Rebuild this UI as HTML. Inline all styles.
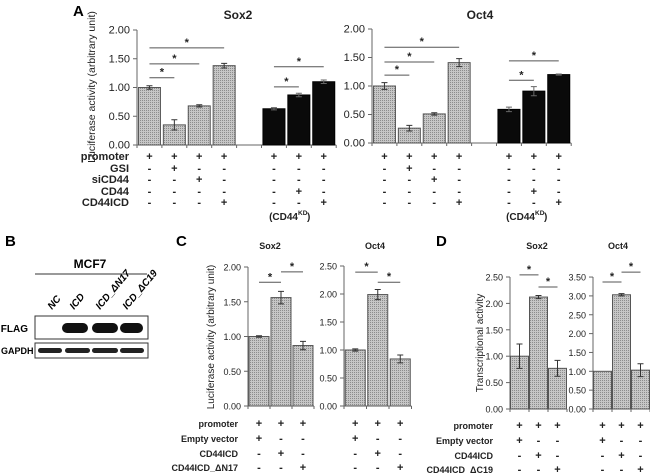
<!DOCTYPE html>
<html><head><meta charset="utf-8">
<style>
body{margin:0;background:#fff;}
svg{display:block;font-family:"Liberation Sans",Arial,sans-serif;}
</style></head>
<body>
<svg id="fig" width="650" height="473" viewBox="0 0 650 473" xmlns="http://www.w3.org/2000/svg">
<defs>
<pattern id="hatch" width="2" height="2" patternUnits="userSpaceOnUse">
<rect width="2" height="2" fill="#c6c6c6"/><rect width="1" height="1" fill="#8c8c8c"/>
</pattern>
</defs>
<g id="root"></g>
<text x="73" y="16" font-size="15" font-weight="bold">A</text>
<text x="5" y="246" font-size="15" font-weight="bold">B</text>
<text x="176" y="246" font-size="15" font-weight="bold">C</text>
<text x="436" y="246" font-size="15" font-weight="bold">D</text>
<g>
<text x="90" y="268" font-size="12" font-weight="bold" text-anchor="middle">MCF7</text>
<line x1="35" y1="274" x2="147" y2="274" stroke="#333" stroke-width="1"/>
<text transform="translate(52,310) rotate(-50)" font-size="10" font-weight="bold" font-style="italic">NC</text>
<text transform="translate(74,310) rotate(-50)" font-size="10" font-weight="bold" font-style="italic">ICD</text>
<text transform="translate(100,310) rotate(-50)" font-size="10" font-weight="bold" font-style="italic">ICD_ΔN17</text>
<text transform="translate(127,310) rotate(-50)" font-size="10" font-weight="bold" font-style="italic">ICD_ΔC19</text>
<text x="28" y="332" font-size="10" font-weight="bold" text-anchor="end">FLAG</text>
<text x="1" y="354" font-size="9" font-weight="bold">GAPDH</text>
<rect x="35" y="316" width="113" height="23" fill="#fff" stroke="#333"/>
<rect x="35" y="343" width="113" height="15" fill="#fff" stroke="#333"/>
<rect x="62" y="323" width="26" height="10" rx="5" fill="#111"/>
<rect x="92" y="323" width="26" height="10" rx="5" fill="#111"/>
<rect x="120" y="323" width="23" height="10" rx="5" fill="#111"/>
<rect x="38" y="348" width="24" height="5" rx="2.5" fill="#222"/>
<rect x="65" y="348" width="25" height="5" rx="2.5" fill="#222"/>
<rect x="92" y="348" width="26" height="5" rx="2.5" fill="#222"/>
<rect x="120" y="348" width="24" height="5" rx="2.5" fill="#222"/>
</g>
</svg>
<script>
const aSox2Values=[1.00,0.35,0.68,1.38,null,0.63,0.87,1.10];
const aSox2Errors=[0.03,0.09,0.02,0.04,0,0.02,0.03,0.03];
const aOct4Values=[1.00,0.26,0.51,1.41,null,0.59,0.91,1.20];
const aOct4Errors=[0.06,0.05,0.02,0.07,0,0.04,0.08,0.01];
const aTicks=[0,0.5,1.0,1.5,2.0];
const cSox2Values=[1.00,1.56,0.87];
const cSox2Errors=[0.01,0.09,0.06];
const cSox2Ticks=[0,0.5,1.0,1.5,2.0];
const cOct4Values=[1.00,1.99,0.84];
const cOct4Errors=[0.02,0.09,0.07];
const cOct4Ticks=[0,0.5,1.0,1.5,2.0,2.5];
const dSox2Values=[1.00,2.12,0.77];
const dSox2Errors=[0.23,0.03,0.15];
const dSox2Ticks=[0,0.5,1.0,1.5,2.0,2.5];
const dOct4Values=[1.00,3.03,1.03];
const dOct4Errors=[0,0.03,0.17];
const dOct4Ticks=[0,0.5,1.0,1.5,2.0,2.5,3.0,3.5];
const aSox2Sig=[[0,1,1.17],[0,2,1.41],[0,3,1.69],[5,6,1.01],[5,7,1.36]];
const aOct4Sig=[[0,1,1.19],[0,2,1.42],[0,3,1.68],[5,6,1.10],[5,7,1.44]];
const cSox2Sig=[[0,1,1.78],[1,2,1.93]];
const cOct4Sig=[[0,1,2.39],[1,2,2.21]];
const dSox2Sig=[[0,1,2.54],[1,2,2.31]];
const dOct4Sig=[[0,1,3.37],[1,2,3.63]];
const aRowLabels=["promoter","GSI","siCD44","CD44","CD44ICD"];
const aSigns=[["+","-","-","-","-"],["+","+","-","-","-"],["+","-","+","-","-"],["+","-","-","-","+"],null,["+","-","-","-","-"],["+","-","-","+","-"],["+","-","-","-","+"]];
const cRowLabels=["promoter","Empty vector","CD44ICD","CD44ICD_ΔN17"];
const dRowLabels=["promoter","Empty vector","CD44ICD","CD44ICD_ΔC19"];
const cdSigns=[["+","+","-","-"],["+","-","+","-"],["+","-","-","+"]];

const NS="http://www.w3.org/2000/svg";
const root=document.getElementById('root');
function mk(tag,attrs,parent){const e=document.createElementNS(NS,tag);for(const k in attrs)e.setAttribute(k,attrs[k]);(parent||root).appendChild(e);return e;}
function txt(x,y,s,size,anchor,bold,parent){const t=mk('text',{x:x,y:y,'font-size':size,'text-anchor':anchor||'start','font-weight':bold?'bold':'normal',fill:'#222'},parent);t.textContent=s;return t;}

function chart(name,cfg){
  const g=mk('g',{});
  
  
  const yS=v=>cfg.y0-v*cfg.scale;
  const xC=i=>cfg.x0+cfg.slot*i+cfg.slot/2;
  const ax=mk('line',{x1:cfg.x0,y1:cfg.y0,x2:cfg.x0,y2:yS(cfg.ticks[cfg.ticks.length-1]),stroke:'#666','stroke-width':1},g);
  
  
  cfg.ticks.forEach(t=>{
    mk('line',{x1:cfg.x0-4,y1:yS(t),x2:cfg.x0,y2:yS(t),stroke:'#666'},g);
    const l=txt(cfg.x0-7,yS(t)+3.5,t.toFixed(2),cfg.tickSize,'end',false,g);
    
    
  });
  const n=cfg.values.length;
  const xa=mk('line',{x1:cfg.x0,y1:cfg.y0,x2:cfg.x0+cfg.slot*n,y2:cfg.y0,stroke:'#666'},g);
  
  
  for(let i=0;i<=n;i++)mk('line',{x1:cfg.x0+cfg.slot*i,y1:cfg.y0,x2:cfg.x0+cfg.slot*i,y2:cfg.y0+3,stroke:'#666'},g);
  cfg.values.forEach((v,i)=>{
    if(v===null)return;
    const black=cfg.black&&i>=cfg.black;
    const b=mk('rect',{x:xC(i)-cfg.bw/2,y:yS(v),width:cfg.bw,height:v*cfg.scale,fill:black?'#0a0a0a':'url(#hatch)',stroke:black?'#000':'#555','stroke-width':1},g);
    
    
    const e=cfg.errors[i];
    if(e>0){
      const eb=mk('path',{d:`M${xC(i)} ${yS(v-e)}V${yS(v+e)}M${xC(i)-3} ${yS(v-e)}h6M${xC(i)-3} ${yS(v+e)}h6`,stroke:black?'#666':'#333',fill:'none','stroke-width':1},g);
      
      
    }
  });
  cfg.sig.forEach(s=>{
    const y=yS(s[2]);
    const l=mk('line',{x1:xC(s[0]),y1:y,x2:xC(s[1]),y2:y,stroke:'#555','stroke-width':1},g);
    
    
    const st=txt((xC(s[0])+xC(s[1]))/2,y-2,'*',11,'middle',true,g);
    
    
  });
  if(cfg.signs){
    cfg.signs.forEach((col,i)=>{
      if(!col)return;
      col.forEach((s,r)=>{
        const t=txt(xC(i),cfg.rowY[r]+4,s,11,'middle',true,g);
        
        
      });
    });
  }
  return g;
}
function rowLabels(labels,xr,rowY,size,name){
  labels.forEach((s,r)=>{
    const t=txt(xr,rowY[r]+4,s,size,'end',true);
    
    
  });
}
const aRowY=[156,168,179,191,202];
chart('chart-a-sox2',{x0:137,y0:145,scale:57.5,slot:24.9,bw:22,values:aSox2Values,errors:aSox2Errors,ticks:aTicks,sig:aSox2Sig,black:5,signs:aSigns,rowY:aRowY,tickSize:11});
chart('chart-a-oct4',{x0:372,y0:143,scale:57,slot:24.9,bw:22,values:aOct4Values,errors:aOct4Errors,ticks:aTicks,sig:aOct4Sig,black:5,signs:aSigns,rowY:aRowY,tickSize:11});
rowLabels(aRowLabels,129,aRowY,11,'a');
const cRowY=[423,438,453,467];
chart('chart-c-sox2',{x0:248,y0:406,scale:69.5,slot:22,bw:20,values:cSox2Values,errors:cSox2Errors,ticks:cSox2Ticks,sig:cSox2Sig,signs:cdSigns,rowY:cRowY,tickSize:9});
chart('chart-c-oct4',{x0:344,y0:406,scale:56,slot:22.5,bw:20,values:cOct4Values,errors:cOct4Errors,ticks:cOct4Ticks,sig:cOct4Sig,signs:cdSigns,rowY:cRowY,tickSize:9});
rowLabels(cRowLabels,238,cRowY,9,'c');
const dRowY=[425,440,455,469];
chart('chart-d-sox2',{x0:510,y0:409,scale:52.8,slot:19,bw:18,values:dSox2Values,errors:dSox2Errors,ticks:dSox2Ticks,sig:dSox2Sig,signs:cdSigns,rowY:dRowY,tickSize:9});
chart('chart-d-oct4',{x0:593,y0:409,scale:37.7,slot:19,bw:18,values:dOct4Values,errors:dOct4Errors,ticks:dOct4Ticks,sig:dOct4Sig,signs:cdSigns,rowY:dRowY,tickSize:9});
rowLabels(dRowLabels,493,dRowY,9,'d');

function label(x,y,s,size,bold,name,rot,anchor){
  const t=txt(x,y,s,size,anchor||'middle',bold);
  if(rot)t.setAttribute('transform',`rotate(-90 ${x} ${y})`);
  
  
}
label(238,19,'Sox2',12,true,'a-sox2-title');
label(480,19,'Oct4',12,true,'a-oct4-title');
label(95,87,'Luciferase activity (arbitrary unit)',10.5,false,'a-y-axis-title',true);
label(298,220,'(CD44',10,true,'a-sox2-kd-label',false,'end');
label(535,220,'(CD44',10,true,'a-oct4-kd-label',false,'end');
label(298,215,'KD',6.5,true,'a-sox2-kd-sup',false,'start');
label(535,215,'KD',6.5,true,'a-oct4-kd-sup',false,'start');
label(307,220,')',10,true,'a-sox2-kd-close',false,'start');
label(544,220,')',10,true,'a-oct4-kd-close',false,'start');
label(270,249,'Sox2',9,true,'c-sox2-title');
label(375,249,'Oct4',9,true,'c-oct4-title');
label(214,337,'Luciferase activity (arbitrary unit)',10,false,'c-y-axis-title',true);
label(537,249,'Sox2',9,true,'d-sox2-title');
label(618,249,'Oct4',9,true,'d-oct4-title');
label(483,343,'Transcriptional activity',10,false,'d-y-axis-title',true);
</script>
</body></html>
